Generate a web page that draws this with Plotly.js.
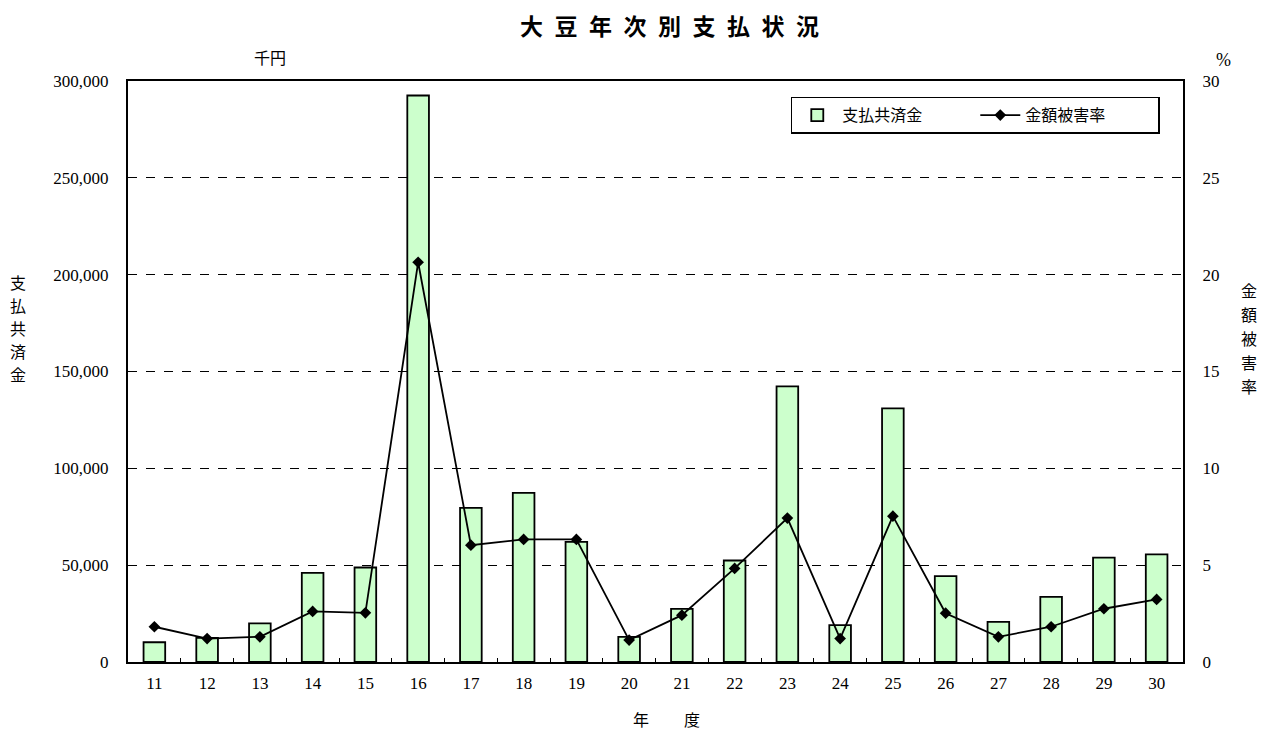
<!DOCTYPE html>
<html>
<head>
<meta charset="utf-8">
<script src="https://cdn.plot.ly/plotly-3.0.1.min.js"></script>
<style>
html,body{margin:0;padding:0;background:#fff;}
#chart{width:1269px;height:734px;}
</style>
</head>
<body>
<div id="chart"></div>
<script>
const years = ["11","12","13","14","15","16","17","18","19","20","21","22","23","24","25","26","27","28","29","30"];
const payments = [10200, 12500, 19900, 46000, 48800, 292500, 79600, 87300, 62000, 13000, 27400, 52400, 142300, 19000, 131000, 44300, 20700, 33600, 53900, 55600];
const damageRate = [1.82, 1.21, 1.30, 2.61, 2.54, 20.64, 6.03, 6.33, 6.33, 1.13, 2.42, 4.83, 7.43, 1.21, 7.53, 2.52, 1.30, 1.82, 2.75, 3.23];
const leftTitle = ["支","払","共","済","金"];
const rightTitle = ["金","額","被","害","率"];
const xTitle = ["年","度"];

const serif = 'Liberation Serif';
const cjk = 'Noto Sans CJK JP, sans-serif';

const traces = [
  {
    type: 'bar', name: '支払共済金', x: years, y: payments, yaxis: 'y',
    marker: {color: '#ccffcc', line: {color: '#000', width: 1.8}},
    width: 0.41
  },
  {
    type: 'scatter', mode: 'lines+markers', name: '金額被害率', x: years, y: damageRate, yaxis: 'y2',
    line: {color: '#000', width: 1.8},
    marker: {symbol: 'diamond', size: 9, color: '#000'}
  }
];

const L = 128, R = 1183, T = 81, B = 662;
const px = x => (x - L) / (R - L);
const py = y => (B - y) / (B - T);

const annotations = [
  {text: '千円', x: px(270), y: py(57), font: {family: cjk, size: 16}},
  {text: '%', x: px(1223), y: py(60), font: {family: serif, size: 18}}
];
leftTitle.forEach((c, i) => annotations.push({text: c, x: px(18), y: py(282 + 23 * i), font: {family: cjk, size: 16}}));
rightTitle.forEach((c, i) => annotations.push({text: c, x: px(1249), y: py(290 + 24 * i), font: {family: cjk, size: 16}}));
xTitle.forEach((c, i) => annotations.push({text: c, x: px(641 + 51 * i), y: py(719), font: {family: cjk, size: 16}}));
annotations.forEach(a => { a.xref = 'paper'; a.yref = 'paper'; a.showarrow = false; a.xanchor = 'center'; a.yanchor = 'middle'; a.font.color = '#000'; });

const layout = {
  width: 1269, height: 734,
  margin: {l: 128, r: 86, t: 81, b: 72},
  paper_bgcolor: '#fff', plot_bgcolor: '#fff',
  font: {family: serif, size: 17, color: '#000'},
  title: {text: '大\u2002豆\u2002年\u2002次\u2002別\u2002支\u2002払\u2002状\u2002況', font: {family: cjk, size: 23, color: '#000', weight: 'bold'}, x: 0.5276, xref: 'container', xanchor: 'center', y: 0.963, yref: 'container', yanchor: 'middle'},
  showlegend: true,
  legend: {
    orientation: 'h', x: 0.978, xanchor: 'right', y: 0.973, yanchor: 'top',
    bordercolor: '#000', borderwidth: 1.5, bgcolor: '#fff',
    font: {family: cjk, size: 16, color: '#000'},
    traceorder: 'normal', itemwidth: 40, entrywidth: 128
  },
  xaxis: {
    type: 'category', range: [-0.5, 19.5], showline: true, linecolor: '#000', linewidth: 2, mirror: true,
    ticks: 'inside', ticklen: 4, tickcolor: '#000', tickson: 'boundaries',
    tickfont: {family: serif, size: 17}, showgrid: false, zeroline: false, ticklabelstandoff: 5
  },
  yaxis: {
    range: [0, 300000], dtick: 50000, tickformat: ',d',
    showline: true, linecolor: '#000', linewidth: 2,
    ticks: '', showgrid: true, gridcolor: '#000', gridwidth: 1, griddash: 'dash',
    zeroline: false, tickfont: {family: serif, size: 17}, ticklabelstandoff: 14
  },
  yaxis2: {
    range: [0, 30], dtick: 5, overlaying: 'y', side: 'right',
    showline: true, linecolor: '#000', linewidth: 2,
    ticks: '', showgrid: false, zeroline: false,
    tickfont: {family: serif, size: 17}, ticklabelstandoff: 14
  },
  annotations: annotations
};

Plotly.newPlot('chart', traces, layout, {displayModeBar: false, staticPlot: true});
</script>
</body>
</html>
